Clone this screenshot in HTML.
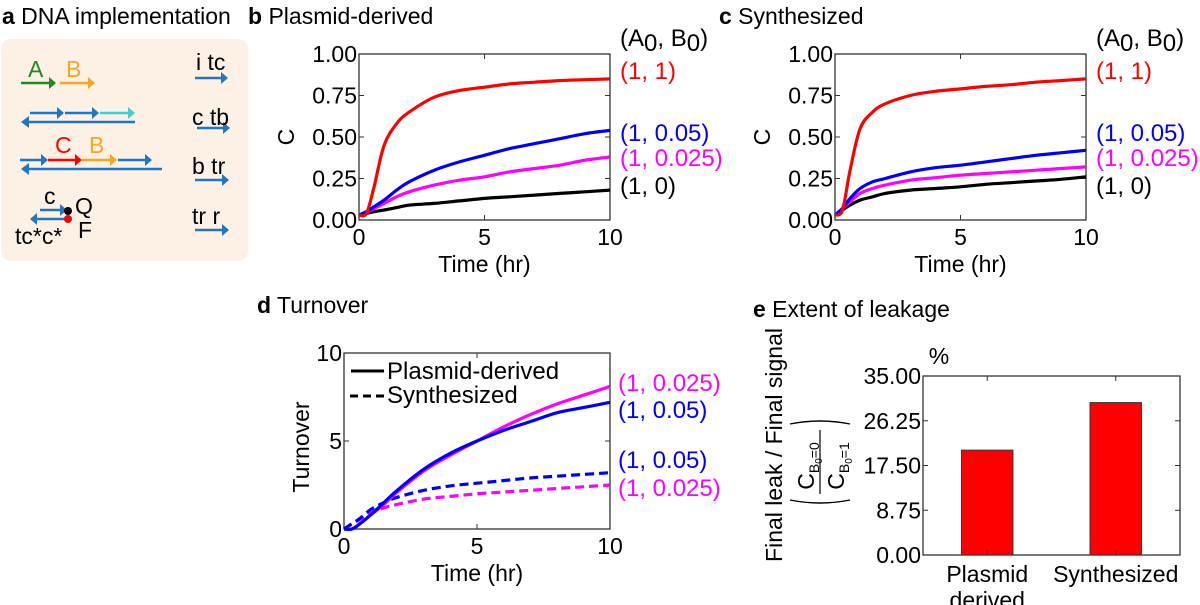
<!DOCTYPE html>
<html><head><meta charset="utf-8"><style>
body{margin:0;background:#fff;}
svg{display:block;font-family:"Liberation Sans",sans-serif;}
</style></head><body>
<svg id="fig" width="1200" height="605" viewBox="0 0 1200 605" xmlns="http://www.w3.org/2000/svg">
<!-- Panel a -->
<g>
<text x="2" y="24" font-size="23"><tspan font-weight="bold">a</tspan> DNA implementation</text>
<rect x="1" y="39" width="247" height="222" rx="10" fill="#fdf1e6"/>
<g stroke-width="2.5" fill="none">
<line x1="21" y1="83" x2="55" y2="83" stroke="#1e8a1e"/><path d="M49,77 L56,83 L49,89z" fill="#1e8a1e" stroke="none"/>
<line x1="60" y1="83" x2="94" y2="83" stroke="#f5a623"/><path d="M88,77 L95,83 L88,89z" fill="#f5a623" stroke="none"/>
<line x1="30" y1="113" x2="62" y2="113" stroke="#1f77c4"/><path d="M57,107 L64,113 L57,119z" fill="#1f77c4" stroke="none"/>
<line x1="65" y1="113" x2="97" y2="113" stroke="#1f77c4"/><path d="M92,107 L99,113 L92,119z" fill="#1f77c4" stroke="none"/>
<line x1="100" y1="113" x2="133" y2="113" stroke="#40d0d0"/><path d="M128,107 L135,113 L128,119z" fill="#40d0d0" stroke="none"/>
<line x1="24" y1="122" x2="135" y2="122" stroke="#1f77c4"/><path d="M29,116 L21,122 L29,128z" fill="#1f77c4" stroke="none"/>
<line x1="20" y1="160" x2="46" y2="160" stroke="#1f77c4"/><path d="M41,154 L48,160 L41,166z" fill="#1f77c4" stroke="none"/>
<line x1="48" y1="160" x2="80" y2="160" stroke="#f00"/><path d="M75,154 L82,160 L75,166z" fill="#f00" stroke="none"/>
<line x1="82" y1="160" x2="115" y2="160" stroke="#f5a623"/><path d="M110,154 L117,160 L110,166z" fill="#f5a623" stroke="none"/>
<line x1="118" y1="160" x2="150" y2="160" stroke="#1f77c4"/><path d="M145,154 L152,160 L145,166z" fill="#1f77c4" stroke="none"/>
<line x1="24" y1="169" x2="162" y2="169" stroke="#1f77c4"/><path d="M29,163 L21,169 L29,175z" fill="#1f77c4" stroke="none"/>
<line x1="40" y1="210" x2="64" y2="210" stroke="#1f77c4"/><path d="M60,204 L67,210 L60,216z" fill="#1f77c4" stroke="none"/>
<line x1="36" y1="219" x2="68" y2="219" stroke="#1f77c4"/><path d="M37,213 L30,219 L37,225z" fill="#1f77c4" stroke="none"/>
<line x1="195" y1="78" x2="224" y2="78" stroke="#1f77c4"/><path d="M221,72 L228,78 L221,84z" fill="#1f77c4" stroke="none"/>
<line x1="197" y1="128" x2="226" y2="128" stroke="#1f77c4"/><path d="M223,122 L230,128 L223,134z" fill="#1f77c4" stroke="none"/>
<line x1="195" y1="180" x2="225" y2="180" stroke="#1f77c4"/><path d="M222,174 L229,180 L222,186z" fill="#1f77c4" stroke="none"/>
<line x1="195" y1="230" x2="225" y2="230" stroke="#1f77c4"/><path d="M222,224 L229,230 L222,236z" fill="#1f77c4" stroke="none"/>
</g>
<circle cx="68" cy="211" r="4" fill="#000"/><circle cx="68" cy="219" r="4" fill="#f00"/>
<g font-size="23">
<text x="28" y="77" fill="#1e8a1e">A</text><text x="66" y="77" fill="#f5a623">B</text>
<text x="55" y="153" fill="#f00">C</text><text x="89" y="153" fill="#f5a623">B</text>
<text x="44" y="204">c</text><text x="75" y="214">Q</text><text x="78" y="238">F</text><text x="15" y="244">tc*c*</text>
<text x="196" y="70">i tc</text><text x="192" y="125">c tb</text><text x="192" y="174">b tr</text><text x="192" y="224">tr r</text>
</g>
</g>
<g font-size="23">
<text x="248" y="24"><tspan font-weight="bold">b</tspan> Plasmid-derived</text>
<text x="719" y="24"><tspan font-weight="bold">c</tspan> Synthesized</text>
<text x="257" y="313"><tspan font-weight="bold">d</tspan> Turnover</text>
<text x="753" y="317"><tspan font-weight="bold">e</tspan> Extent of leakage</text>
</g>
<g id="charts"></g>
</svg>
<script>
const tB = [0,0.3,0.6,1,1.5,2,3,4,5,6,7,8,9,10];
const bRed = [0.03,0.04,0.2,0.45,0.58,0.65,0.74,0.78,0.80,0.82,0.83,0.84,0.845,0.85];
const bBlue = [0.03,0.05,0.08,0.12,0.18,0.23,0.30,0.35,0.39,0.43,0.46,0.49,0.52,0.54];
const bMag = [0.03,0.045,0.07,0.10,0.14,0.17,0.21,0.24,0.26,0.29,0.31,0.33,0.36,0.38];
const bBlk = [0.03,0.04,0.05,0.06,0.075,0.09,0.10,0.115,0.13,0.14,0.15,0.16,0.17,0.18];
const cRed = [0.03,0.06,0.3,0.55,0.65,0.70,0.75,0.775,0.79,0.805,0.815,0.83,0.84,0.85];
const cBlue = [0.03,0.07,0.13,0.19,0.23,0.25,0.29,0.315,0.33,0.35,0.37,0.39,0.405,0.42];
const cMag = [0.03,0.07,0.11,0.16,0.19,0.21,0.24,0.255,0.27,0.28,0.29,0.30,0.31,0.32];
const cBlk = [0.03,0.06,0.09,0.12,0.14,0.16,0.18,0.19,0.20,0.215,0.225,0.235,0.245,0.26];
const tD = [0,0.3,0.6,1,1.5,2,3,4,5,6,7,8,9,10];
const dMagSolid = [0,0,0.3,0.8,1.4,2.1,3.3,4.2,5.0,5.8,6.5,7.1,7.6,8.1];
const dBlueSolid = [0,0,0.3,0.8,1.5,2.2,3.4,4.3,5.0,5.6,6.1,6.6,6.9,7.2];
const dBlueDash = [0,0.3,0.6,1.1,1.5,1.8,2.2,2.45,2.6,2.75,2.9,3.0,3.1,3.2];
const dMagDash = [0,0.3,0.55,0.9,1.2,1.4,1.7,1.85,2.0,2.1,2.2,2.3,2.4,2.5];
const eCats = ["Plasmid derived","Synthesized"];
const eVals = [20.5,29.8];
const eTicks = ["0.00","8.75","17.50","26.25","35.00"];
const cTicks = ["0.00","0.25","0.50","0.75","1.00"];
const xTicks = ["0","5","10"];
const dTicks = ["0","5","10"];

const NS="http://www.w3.org/2000/svg";
const root=document.getElementById('charts');
const TK=23, LG=24;
function mk(tag,attrs,parent){const e=document.createElementNS(NS,tag);for(const k in attrs)e.setAttribute(k,attrs[k]);(parent||root).appendChild(e);return e;}
function txt(x,y,s,size,anchor,fill,parent){const t=mk('text',{x:x,y:y,'font-size':size,'text-anchor':anchor||'start',fill:fill||'#000'},parent);t.textContent=s;return t;}

function axes(g,x0,x1,y0,y1,yt,xl,xlab){
  mk('rect',{x:x0,y:y0,width:x1-x0,height:y1-y0,fill:'none',stroke:'#333','stroke-width':1.3},g);
  yt.forEach((s,i)=>{const y=y1-(y1-y0)*i/(yt.length-1);
    mk('line',{x1:x0,y1:y,x2:x0+5,y2:y,stroke:'#333'},g);mk('line',{x1:x1,y1:y,x2:x1-5,y2:y,stroke:'#333'},g);
    const t=txt(x0-2,y+8,s,TK,'end','#000',g);});
  if(xl){xl.forEach((s,i)=>{const x=x0+(x1-x0)*i/(xl.length-1);
    mk('line',{x1:x,y1:y1,x2:x,y2:y1-5,stroke:'#333'},g);mk('line',{x1:x,y1:y0,x2:x,y2:y0+5,stroke:'#333'},g);
    const t=txt(x,y1+25,s,TK,'middle','#000',g);});
    const t=txt((x0+x1)/2,y1+52,xlab,TK,'middle','#000',g);}
}
function line(g,xs,ys,sx,sy,color,dash,name){
  const P=xs.map((t,i)=>[sx(t),sy(ys[i])]);
  let d='M'+P[0][0].toFixed(1)+','+P[0][1].toFixed(1);
  for(let i=0;i<P.length-1;i++){
    const p0=P[Math.max(0,i-1)],p1=P[i],p2=P[i+1],p3=P[Math.min(P.length-1,i+2)];
    const c1=[p1[0]+(p2[0]-p0[0])/6,p1[1]+(p2[1]-p0[1])/6],c2=[p2[0]-(p3[0]-p1[0])/6,p2[1]-(p3[1]-p1[1])/6];
    d+=' C'+c1.map(v=>v.toFixed(1)).join(',')+' '+c2.map(v=>v.toFixed(1)).join(',')+' '+p2.map(v=>v.toFixed(1)).join(',');
  }
  const p=mk('path',{d:d,fill:'none',stroke:color,'stroke-width':3.2,'stroke-dasharray':dash||'none','stroke-linejoin':'round'},g);
  
  
}
function cPanel(name,x0,x1,series){
  const y0=54,y1=220;
  const g=mk('g',{});
  
  
  axes(g,x0,x1,y0,y1,cTicks,xTicks,'Time (hr)');
  const sx=t=>x0+(x1-x0)*t/10, sy=v=>y1-(y1-y0)*v;
  const yl=txt(0,0,'C',TK,'middle','#000',g);yl.setAttribute('transform',`translate(${x0-65},${(y0+y1)/2}) rotate(-90)`);
  
  
  series.forEach(s=>line(g,tB,s[0],sx,sy,s[1],null,s[2]));
  const lx=x1+10;
  const h=txt(lx,46,'',LG,'start','#000',g);h.innerHTML='(A<tspan dy="5">0</tspan><tspan dy="-5">, B</tspan><tspan dy="5">0</tspan><tspan dy="-5">)</tspan>';
  
  
  const labs=[['(1, 1)','#f00',79],['(1, 0.05)','#00f',141],['(1, 0.025)','#f0f',166],['(1, 0)','#000',194]];
  labs.forEach(l=>{const t=txt(lx,l[2],l[0],LG,'start',l[1],g);});
}
cPanel('chart-plasmid-derived',359,610,[[bBlk,'#000','line-b-1-0'],[bMag,'#f0f','line-b-1-0025'],[bBlue,'#00f','line-b-1-005'],[bRed,'#f00','line-b-1-1']]);
cPanel('chart-synthesized',835,1086,[[cBlk,'#000','line-c-1-0'],[cMag,'#f0f','line-c-1-0025'],[cBlue,'#00f','line-c-1-005'],[cRed,'#f00','line-c-1-1']]);

// Panel d
(function(){
  const x0=344,x1=610,y0=353,y1=529;
  const g=mk('g',{});
  
  
  axes(g,x0,x1,y0,y1,dTicks,xTicks,'Time (hr)');
  const sx=t=>x0+(x1-x0)*t/10, sy=v=>y1-(y1-y0)*v/10;
  const yl=txt(0,0,'Turnover',TK,'middle','#000',g);yl.setAttribute('transform',`translate(${x0-35},${(y0+y1)/2+6}) rotate(-90)`);
  
  
  line(g,tD,dMagDash,sx,sy,'#f0f','9,5','line-d-synth-0025');
  line(g,tD,dBlueDash,sx,sy,'#00f','9,5','line-d-synth-005');
  line(g,tD,dMagSolid,sx,sy,'#f0f',null,'line-d-plasmid-0025');
  line(g,tD,dBlueSolid,sx,sy,'#00f',null,'line-d-plasmid-005');
  mk('line',{x1:351,y1:371,x2:384,y2:371,stroke:'#000','stroke-width':3},g);
  mk('line',{x1:350,y1:396,x2:384,y2:396,stroke:'#000','stroke-width':3,'stroke-dasharray':'8,5'},g);
  let t=txt(387,379,'Plasmid-derived',LG,'start','#000',g);
  t=txt(387,403,'Synthesized',LG,'start','#000',g);
  [['(1, 0.025)','#f0f',391],['(1, 0.05)','#00f',418],['(1, 0.05)','#00f',468],['(1, 0.025)','#f0f',496]].forEach(l=>{
    const e=txt(618,l[2],l[0],LG,'start',l[1],g);});
})();

// Panel e
(function(){
  const x0=923,x1=1180,y0=376,y1=555;
  const g=mk('g',{});
  
  
  axes(g,x0,x1,y0,y1,eTicks,null);
  const sy=v=>y1-(y1-y0)*v/35;
  const bw=(x1-x0)/5;
  eVals.forEach((v,i)=>{
    const cx=x0+(x1-x0)*(i===0?0.25:0.75);
    const r=mk('rect',{x:cx-bw/2,y:sy(v),width:bw,height:y1-sy(v),fill:'#f00',stroke:'#333','stroke-width':1},g);
    
    
    mk('line',{x1:cx,y1:y0,x2:cx,y2:y0+5,stroke:'#333'},g);mk('line',{x1:cx,y1:y1,x2:cx,y2:y1-5,stroke:'#333'},g);
    const words=eCats[i]==='Plasmid derived'?['Plasmid','derived']:[eCats[i]];
    words.forEach((w,j)=>{const t=txt(cx,y1+27+j*26,w,TK,'middle','#000',g);});
  });
  let t=txt(939,364,'%',TK,'middle','#000',g);
  t=txt(0,0,'Final leak / Final signal',TK,'middle','#000',g);t.setAttribute('transform','translate(782,445) rotate(-90)');
  
  
  const fg=mk('g',{transform:'translate(820,462) rotate(-90)'},g);
  
  
  mk('line',{x1:-32,y1:0,x2:32,y2:0,stroke:'#000','stroke-width':1.2},fg);
  let a=txt(-4,-6,'',23,'middle','#000',fg);a.innerHTML='C<tspan font-size="14" dy="5">B<tspan font-size="10" dy="3">0</tspan><tspan dy="-3">=0</tspan></tspan>';
  a=txt(-4,24,'',23,'middle','#000',fg);a.innerHTML='C<tspan font-size="14" dy="5">B<tspan font-size="10" dy="3">0</tspan><tspan dy="-3">=1</tspan></tspan>';
  mk('path',{d:'M-38,-30 Q-44,0 -38,30',fill:'none',stroke:'#000','stroke-width':1.4},fg);
  mk('path',{d:'M38,-30 Q44,0 38,30',fill:'none',stroke:'#000','stroke-width':1.4},fg);
})();
</script>
</body></html>
